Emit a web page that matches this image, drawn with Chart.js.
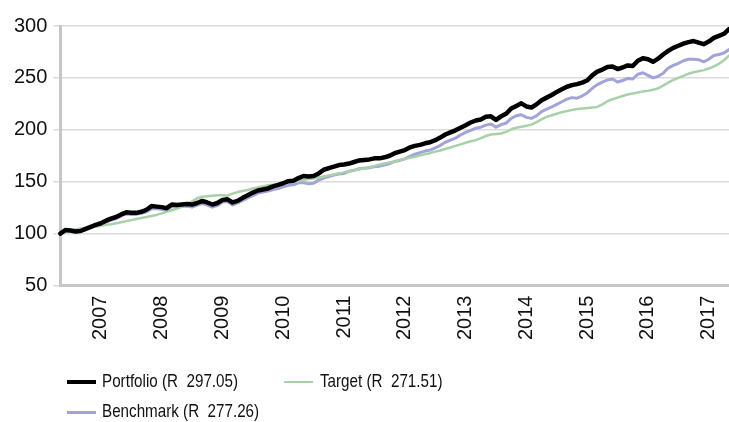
<!DOCTYPE html>
<html>
<head>
<meta charset="utf-8">
<script src="https://cdn.jsdelivr.net/npm/chart.js@4"></script>
<style>
html,body{margin:0;padding:0;background:#fff;}
#wrap{position:relative;width:729px;height:422px;overflow:hidden;}
#c{position:absolute;left:0;top:0;}
.leg{position:absolute;font-family:"Liberation Sans",Arial,sans-serif;font-size:19px;color:#111;white-space:pre;line-height:20px;transform:scaleX(0.8);transform-origin:0 0;}
.sw{position:absolute;}
</style>
</head>
<body>
<div id="wrap"><canvas id="c" width="729" height="422"></canvas><div id="legend"></div></div>
<script>
// ---- data ----
const startYear = 2006, startMonth = 5; // May 2006, monthly
const yearTicks = ['2007','2008','2009','2010','2011','2012','2013','2014','2015','2016','2017'];
const seriesNames = ['Portfolio (R  297.05)', 'Target (R  271.51)', 'Benchmark (R  277.26)'];
const yTicks = [50, 100, 150, 200, 250, 300];

const portfolio = [100,103.5,103,102,102.5,104.5,106.5,108.5,110,112.5,114.5,116,118.5,120.5,120,120,121,123,126.5,126,125.5,124.5,128,127.5,128,128.5,128,129.5,131.5,130,128,129.5,132.5,133,130,131.5,134.5,137,139.5,141.5,142.5,143.5,145.5,147,148.5,150.5,151,153.5,155.5,155,155.5,158,161.5,163,164.5,166,166.5,167.5,169,170.5,171,171.5,172.5,172.5,173.5,175,177.5,179,180.5,183,184.5,185.5,187,188,190,192.5,195.5,197.5,199.5,202,204.5,207,209,210,212.5,213,209.5,213,215.5,220.5,223,225.5,222.5,221.5,224.5,228.5,231,233.5,236.5,239,241.5,243,244,245.5,247.5,252.5,256,258,260.5,261,258.5,260,262,261.5,266.5,269,268,265.5,268.5,272.5,276,279,281,283,284.5,285.5,284,282.5,285,288.5,290.5,292.5,297.05];

const benchmark = [100,102.5,102.5,102,102.5,104,106,107.5,109,111,113,114.5,117,119,118.5,118.5,119.5,121,124,124,123.5,122.5,126,125.5,126,126.5,125.5,127.5,129,127.5,125.5,127,130.5,131,127.5,129.5,132,134.5,136.5,139,140,141,142.5,143.5,145,146.5,147,149,149,148,148.5,151.5,153.5,155,156.5,157.5,158,160,161,162.5,163,163.5,164.5,165,166,167.5,169.5,170.5,172,174.5,176.5,178,179.5,180.5,182.5,185,188,190,192,195,197.5,199.5,201.5,202.5,204.5,205.5,202.5,205,206.5,211,213.5,214.5,212,211,213.5,217.5,220,222,224.5,227,229.5,231,230.5,232.5,235.5,240,243.5,246,248,249,246,247.5,249.5,249,253.5,255,252.5,250,251.5,254.5,259.5,262,264,266.5,268,268,267.5,265.5,268,271.5,272.5,274,277.26];

const target = [100,101.5,103,104,105,105.5,106,106.5,107.5,108.5,109,110,111,112,113,114,115,116,117,118,119.5,121,122.5,124,126,128,131,134,135.5,136,136.5,137,137,136.5,138.5,140,141,142,143.5,144.5,145.5,146.5,147,147.5,148.5,149,149.5,150.5,151.5,152.5,153,154,155,156,157,158,159,160,161,162,163,164,165,166.5,167.5,168.5,169.5,171,172,173,174,175.5,176.5,177.5,179,180,181.5,183,184.5,186,187.5,189,190,192,194,195.5,196,196.5,198,200.5,202,203,204,205,207.5,210,212.5,214,215.5,217,218,219,220,220.5,221,221.5,222,224.5,227.5,229.5,231,232.5,234,235,236,237,237.5,238.5,240,242.5,245.5,248,250,252,254,255.5,256.5,257.5,259,261,263.5,267,271.51];

// month category labels
const months = [];
for (let i = 0; i < portfolio.length; i++) {
  const m = startMonth - 1 + i;
  const y = startYear + Math.floor(m / 12);
  const mm = (m % 12) + 1;
  months.push(y + '-' + String(mm).padStart(2, '0'));
}

const colors = ['#000000', '#a9d1a9', '#a3a3db'];
const widths = [4.5, 2.5, 3];

const tickFont = {family: '"Liberation Sans", Arial, sans-serif', size: 20};

new Chart(document.getElementById('c'), {
  type: 'line',
  data: {
    labels: months,
    datasets: [
      {label: seriesNames[0], data: portfolio, borderColor: colors[0], borderWidth: widths[0], order: 0},
      {label: seriesNames[1], data: target, borderColor: colors[1], borderWidth: widths[1], order: 1},
      {label: seriesNames[2], data: benchmark, borderColor: colors[2], borderWidth: widths[2], order: 2}
    ]
  },
  options: {
    responsive: false,
    animation: false,
    events: [],
    elements: {point: {radius: 0}, line: {tension: 0, borderJoinStyle: 'round', borderCapStyle: 'round'}},
    layout: {padding: {left: 8, right: 0, top: 26, bottom: 80}},
    plugins: {legend: {display: false}, tooltip: {enabled: false}},
    scales: {
      x: {
        type: 'category',
        offset: false,
        grid: {display: false},
        border: {display: true, color: '#c6c6c6', width: 3},
        afterFit: function(s) { s.paddingRight = 0; s.paddingLeft = 0; },
        ticks: {
          autoSkip: false,
          minRotation: 90,
          maxRotation: 90,
          padding: 2,
          color: '#111',
          font: tickFont,
          callback: function(v, i) {
            const lab = months[i];
            if (lab.endsWith('-01')) {
              const yr = lab.slice(0, 4);
              return yearTicks.includes(yr) ? yr : '';
            }
            return '';
          }
        }
      },
      y: {
        min: yTicks[0],
        max: yTicks[yTicks.length - 1],
        afterBuildTicks: function(ax) { ax.ticks = yTicks.map(v => ({value: v})); },
        grid: {color: '#dcdcdc', lineWidth: 1.5, tickLength: 7, drawTicks: true},
        border: {display: true, color: '#c6c6c6', width: 3},
        ticks: {padding: 6, color: '#111', font: tickFont}
      }
    }
  }
});

// HTML legend
const legendPos = [
  {x: 67, y: 371, tx: 102},
  {x: 284, y: 371, tx: 320},
  {x: 67, y: 401, tx: 102}
];
const lg = document.getElementById('legend');
seriesNames.forEach((name, i) => {
  const p = legendPos[i];
  const sw = document.createElement('div');
  sw.className = 'sw';
  sw.style.left = p.x + 'px';
  sw.style.width = '29px';
  sw.style.height = widths[i] + 'px';
  sw.style.top = (p.y + 11 - widths[i] / 2) + 'px';
  sw.style.background = colors[i];
  lg.appendChild(sw);
  const t = document.createElement('div');
  t.className = 'leg';
  t.style.left = p.tx + 'px';
  t.style.top = p.y + 'px';
  t.textContent = name;
  lg.appendChild(t);
});
</script>
</body>
</html>
